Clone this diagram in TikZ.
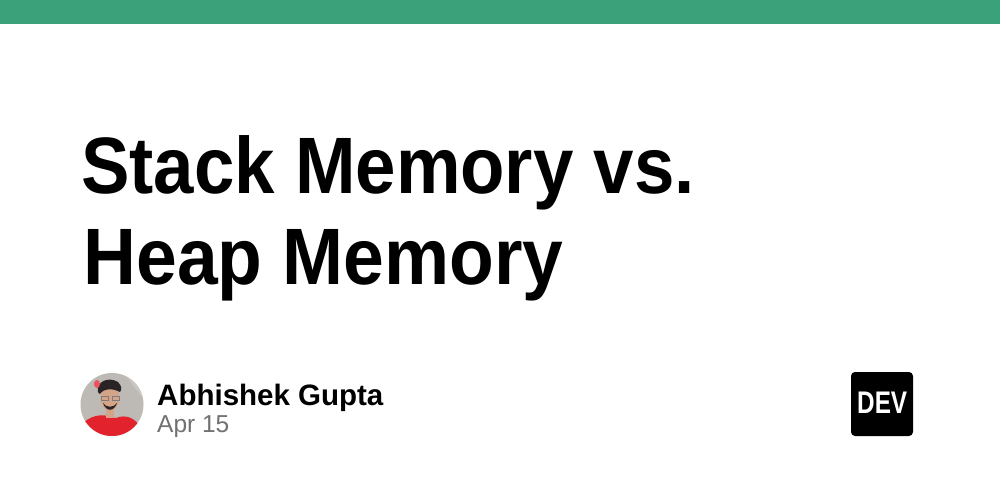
\documentclass[tikz,border=0pt]{standalone}
\usepackage{fontspec}
\setmainfont{Liberation Sans}
\newfontfamily\titlefont[FakeStretch=0.908]{Liberation Sans}
\newfontfamily\titlefontb[FakeStretch=0.915]{Liberation Sans}
\definecolor{devgreen}{HTML}{3AA17A}
\definecolor{dategray}{HTML}{717171}
\definecolor{avbg}{HTML}{BDB9B4}
\definecolor{shirt}{HTML}{E2232E}
\definecolor{skin}{HTML}{D4A488}
\definecolor{hair}{HTML}{2A2325}
\tikzset{
  titletext/.style={anchor=base west, inner sep=0pt, font=\titlefont\bfseries\fontsize{80}{90}\selectfont},
  titletextb/.style={anchor=base west, inner sep=0pt, font=\titlefontb\bfseries\fontsize{80}{90}\selectfont},
  nametext/.style={anchor=base west, inner sep=0pt, font=\bfseries\fontsize{29.5}{32}\selectfont},
  datetext/.style={anchor=base west, inner sep=0pt, text=dategray, font=\fontsize{24.5}{28}\selectfont},
}
\begin{document}
\begin{tikzpicture}[x=1pt,y=-1pt]
\useasboundingbox (0,0) rectangle (1000,500);
\fill[white] (0,0) rectangle (1000,500);
\fill[devgreen] (0,0) rectangle (1000,24.5);
\node[titletext] (t1) at (81,193) {Stack Memory vs.};
\node[titletextb] (t2) at (83.5,284) {Heap Memory};
% avatar
\begin{scope}
\clip (112,404.5) circle (31.5);
\fill[avbg] (80,373) rectangle (144,437);
\fill[avbg!80!white] (124,373) -- (144,373) -- (144,400) -- cycle;
\fill[shirt] (80,437) -- (82,424) .. controls (90,416) and (100,414) .. (108,416) -- (116,418) .. controls (126,414) and (134,418) .. (140,426) -- (144,437) -- cycle;
\fill[skin] (110,398) ellipse (9.5 and 12.5);
\fill[skin] (106,406) rectangle (114,418);
\fill[hair] (98,392) .. controls (96,382) and (108,376) .. (118,382) .. controls (122,386) and (122,390) .. (120,392) .. controls (112,388) and (104,388) .. (100,394) -- cycle;
\fill[shirt!70!pink] (97,384) ellipse (3 and 4);
\fill[hair] (103,403) .. controls (106,412) and (114,412) .. (117,403) .. controls (114,408) and (106,408) .. (103,403) -- cycle;
\draw[hair!60, line width=0.6pt] (101,396) rectangle (108,400) (112,396) rectangle (119,400);
\end{scope}
\node[nametext] (name) at (157,405) {Abhishek Gupta};
\node[datetext] (date) at (157,432.5) {Apr 15};
% DEV logo
\fill[black, rounded corners=4pt] (851,372) rectangle (913,436);
\node[anchor=base west, inner sep=0pt, text=white, font=\bfseries] (dev) at (857,413.5) {\resizebox{50pt}{21.5pt}{DEV}};
\end{tikzpicture}
\end{document}
